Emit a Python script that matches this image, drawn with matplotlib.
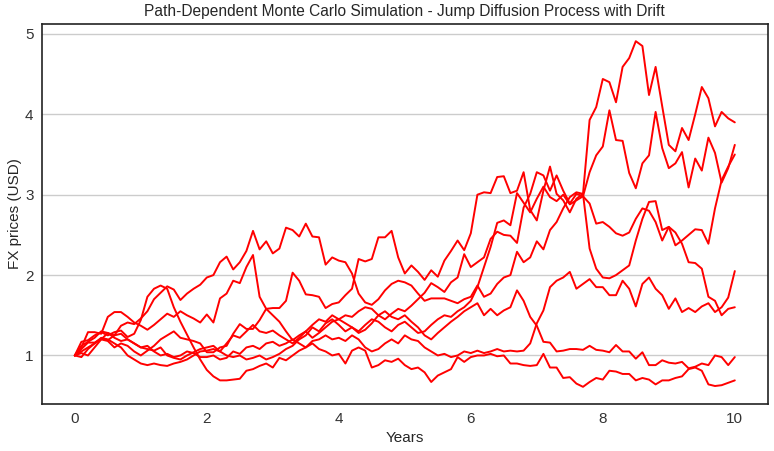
import numpy as np
import matplotlib
matplotlib.use("Agg")
import matplotlib.pyplot as plt
import seaborn as sns

# time grid in years (101 steps)
years = np.round(np.arange(0, 10.01, 0.1), 1)

# simulated FX paths
path_a = [1.00, 1.08, 1.16, 1.16, 1.21, 1.19, 1.25, 1.37, 1.41, 1.39, 1.46, 1.55, 1.70, 1.78,
          1.86, 1.82, 1.69, 1.77, 1.83, 1.88, 1.97,
          2.00, 2.16, 2.23, 2.07, 2.16, 2.30, 2.55, 2.32, 2.42, 2.27,
          2.33, 2.59, 2.56, 2.48, 2.64, 2.48, 2.47, 2.13, 2.22, 2.18,
          2.16, 2.02, 1.77, 1.66, 1.63, 1.70, 1.81, 1.89, 1.93, 1.91,
          1.87, 1.77, 1.68, 1.71, 1.71, 1.71, 1.68, 1.65, 1.70, 1.73,
          1.87, 1.73, 1.77, 1.89, 1.97, 2.00, 2.29, 2.16, 2.22, 2.42,
          2.32, 2.56, 2.66, 2.83, 2.97, 3.03, 3.01, 2.33, 2.08, 1.97,
          1.96, 2.00, 2.06, 2.12, 2.43, 2.70, 2.91, 2.92, 2.56, 2.60,
          2.37, 2.43, 2.50, 2.57, 2.56, 2.39, 2.83, 3.18, 3.35, 3.50]

path_b = [1.00, 1.10, 1.29, 1.29, 1.27, 1.48, 1.54, 1.54, 1.48, 1.41, 1.37, 1.32, 1.38, 1.45,
          1.52, 1.48, 1.55, 1.50, 1.46, 1.41, 1.51,
          1.41, 1.71, 1.77, 1.93, 1.90, 2.10, 2.25, 1.73, 1.58, 1.59,
          1.59, 1.68, 2.03, 1.93, 1.76, 1.75, 1.73, 1.59, 1.64, 1.66,
          1.75, 1.83, 2.20, 2.17, 2.20, 2.47, 2.47, 2.55, 2.22, 2.02,
          2.12, 2.04, 1.94, 2.06, 1.98, 2.18, 2.30, 2.43, 2.31, 2.52,
          3.00, 3.03, 3.02, 3.22, 3.23, 3.02, 3.05, 3.28, 2.81, 2.68,
          3.05, 3.35, 3.01, 2.93, 2.78, 2.95, 3.01, 3.93, 4.09, 4.44,
          4.40, 4.15, 4.59, 4.70, 4.91, 4.85, 4.24, 4.59, 4.10, 3.62,
          3.54, 3.83, 3.68, 4.00, 4.34, 4.20, 3.85, 4.03, 3.95, 3.90]

path_c = [1.00, 1.05, 1.10, 1.15, 1.20, 1.18, 1.10, 1.15, 1.12, 1.05, 1.00, 1.06, 1.12, 1.20,
          1.25, 1.30, 1.22, 1.20, 1.18, 1.15, 1.04,
          1.04, 1.10, 1.12, 1.27, 1.39, 1.33, 1.33, 1.44, 1.58, 1.50,
          1.42, 1.30, 1.19, 1.25, 1.30, 1.22, 1.28, 1.35, 1.42, 1.45,
          1.50, 1.48, 1.55, 1.60, 1.58, 1.50, 1.45, 1.52, 1.58, 1.55,
          1.62, 1.70, 1.78, 1.90, 1.85, 1.79, 1.91, 1.97, 2.26, 2.10,
          2.16, 2.22, 2.45, 2.54, 2.50, 2.49, 2.40, 2.84, 3.01, 3.28,
          3.24, 3.05, 3.24, 3.05, 2.89, 3.01, 2.98, 3.28, 3.49, 3.60,
          4.05, 3.68, 3.67, 3.27, 3.08, 3.39, 3.49, 4.03, 3.58, 3.33,
          3.39, 3.53, 3.09, 3.45, 3.30, 3.71, 3.52, 3.15, 3.33, 3.62]

path_d = [1.00, 0.98, 1.08, 1.15, 1.22, 1.20, 1.15, 1.10, 1.00, 0.95, 0.90, 0.88, 0.90, 0.88,
          0.87, 0.90, 0.92, 0.95, 1.00, 1.05, 1.06,
          1.08, 1.05, 1.15, 1.25, 1.22, 1.30, 1.38, 1.30, 1.28, 1.31,
          1.25, 1.20, 1.15, 1.22, 1.30, 1.38, 1.45, 1.42, 1.50, 1.45,
          1.40, 1.35, 1.30, 1.38, 1.45, 1.42, 1.35, 1.30, 1.38, 1.42,
          1.35, 1.28, 1.30, 1.38, 1.45, 1.50, 1.48, 1.55, 1.60, 1.68,
          1.85, 2.10, 2.35, 2.65, 2.68, 2.62, 3.02, 2.90, 2.78, 2.95,
          3.10, 2.97, 2.92, 3.00, 2.88, 2.93, 2.98, 2.89, 2.64, 2.66,
          2.60, 2.52, 2.49, 2.53, 2.70, 2.83, 2.80, 2.66, 2.43, 2.60,
          2.53, 2.39, 2.16, 2.15, 2.08, 1.73, 1.68, 1.50, 1.58, 1.60]

path_e = [1.00, 1.03, 1.00, 1.10, 1.20, 1.28, 1.22, 1.18, 1.20, 1.15, 1.10, 1.12, 1.05, 1.00,
          1.02, 0.98, 1.00, 1.05, 1.03, 0.98, 0.98,
          1.00, 0.95, 0.97, 1.05, 1.02, 1.10, 1.12, 1.08, 1.15, 1.17,
          1.12, 1.15, 1.20, 1.15, 1.10, 1.18, 1.20, 1.25, 1.20, 1.22,
          1.18, 1.25, 1.20, 1.10, 1.05, 1.08, 1.15, 1.20, 1.15, 1.25,
          1.20, 1.18, 1.10, 1.05, 1.00, 1.02, 0.98, 1.00, 1.05, 1.03,
          1.06, 1.03, 1.05, 1.08, 1.05, 1.06, 1.05, 1.06, 1.15, 1.40,
          1.56, 1.85, 1.93, 1.97, 2.04, 1.83, 1.89, 1.95, 1.85, 1.85,
          1.75, 1.75, 1.93, 1.83, 1.61, 1.89, 1.97, 1.83, 1.75, 1.58,
          1.71, 1.54, 1.59, 1.54, 1.61, 1.65, 1.54, 1.60, 1.72, 2.05]

path_f = [1.00, 1.12, 1.17, 1.22, 1.30, 1.28, 1.25, 1.27, 1.20, 1.15, 1.10, 1.08, 1.06, 1.10,
          1.00, 0.97, 0.95, 1.00, 1.04, 1.08, 1.10,
          1.12, 1.05, 1.00, 0.98, 1.00, 0.95, 0.97, 1.00, 0.95, 0.98,
          1.02, 1.08, 1.12, 1.20, 1.25, 1.35, 1.30, 1.40, 1.45, 1.38,
          1.30, 1.35, 1.28, 1.32, 1.40, 1.50, 1.55, 1.48, 1.45, 1.50,
          1.42, 1.35, 1.25, 1.20, 1.28, 1.35, 1.42, 1.48, 1.55, 1.60,
          1.65, 1.50, 1.58, 1.50, 1.56, 1.60, 1.81, 1.68, 1.48, 1.37,
          1.17, 1.16, 1.05, 1.06, 1.08, 1.08, 1.07, 1.12, 1.07, 1.06,
          1.04, 1.13, 1.05, 1.05, 0.96, 1.04, 0.88, 0.88, 0.94, 0.91,
          0.90, 0.92, 0.84, 0.86, 0.90, 0.88, 1.00, 0.98, 0.88, 0.98]

path_g = [1.00, 1.17, 1.19, 1.25, 1.29, 1.25, 1.29, 1.31, 1.23, 1.27, 1.44, 1.73, 1.83, 1.87,
          1.83, 1.60, 1.42, 1.26, 1.10, 0.95, 0.82,
          0.74, 0.69, 0.69, 0.70, 0.71, 0.81, 0.83, 0.87, 0.90, 0.85,
          0.97, 0.94, 1.00, 1.06, 1.10, 1.15, 1.08, 1.05, 1.00, 1.02,
          0.90, 1.06, 1.10, 1.06, 0.85, 0.88, 0.94, 0.92, 0.96, 0.88,
          0.83, 0.85, 0.79, 0.67, 0.75, 0.79, 0.83, 0.98, 0.92, 0.98,
          1.00, 1.00, 1.02, 0.99, 1.00, 0.90, 0.90, 0.88, 0.87, 0.88,
          1.02, 0.85, 0.85, 0.72, 0.73, 0.65, 0.61, 0.67, 0.72, 0.70,
          0.81, 0.80, 0.77, 0.77, 0.69, 0.72, 0.70, 0.64, 0.69, 0.69,
          0.72, 0.74, 0.83, 0.85, 0.81, 0.64, 0.62, 0.63, 0.66, 0.69]

paths = [path_a, path_b, path_c, path_d, path_e, path_f, path_g]

sns.set_style("white")
plt.rcParams['font.family'] = ['Liberation Sans', 'DejaVu Sans']

fig = plt.figure(figsize=(7.74, 4.51), dpi=100)
ax = fig.add_axes([0.054, 0.104, 0.938, 0.843])
for p in paths:
    ax.plot(years, p, color='red', linewidth=1.4)

ax.yaxis.grid(True, color='#cccccc', linewidth=1.0)
ax.set_axisbelow(True)
ax.set_xticks([0, 2, 4, 6, 8, 10])
ax.set_yticks([1, 2, 3, 4, 5])
ax.tick_params(labelsize=11, colors='#333333', length=0, pad=6)
for s in ax.spines.values():
    s.set_color('#222222')
    s.set_linewidth(1.2)
ax.set_title('Path-Dependent Monte Carlo Simulation - Jump Diffusion Process with Drift',
             fontsize=11.2, color='#262626', pad=6)
ax.set_xlabel('Years', fontsize=11, color='#262626', labelpad=3)
ax.set_ylabel('FX prices (USD)', fontsize=11, color='#262626', labelpad=2)

fig.savefig('out.png', dpi=100)
